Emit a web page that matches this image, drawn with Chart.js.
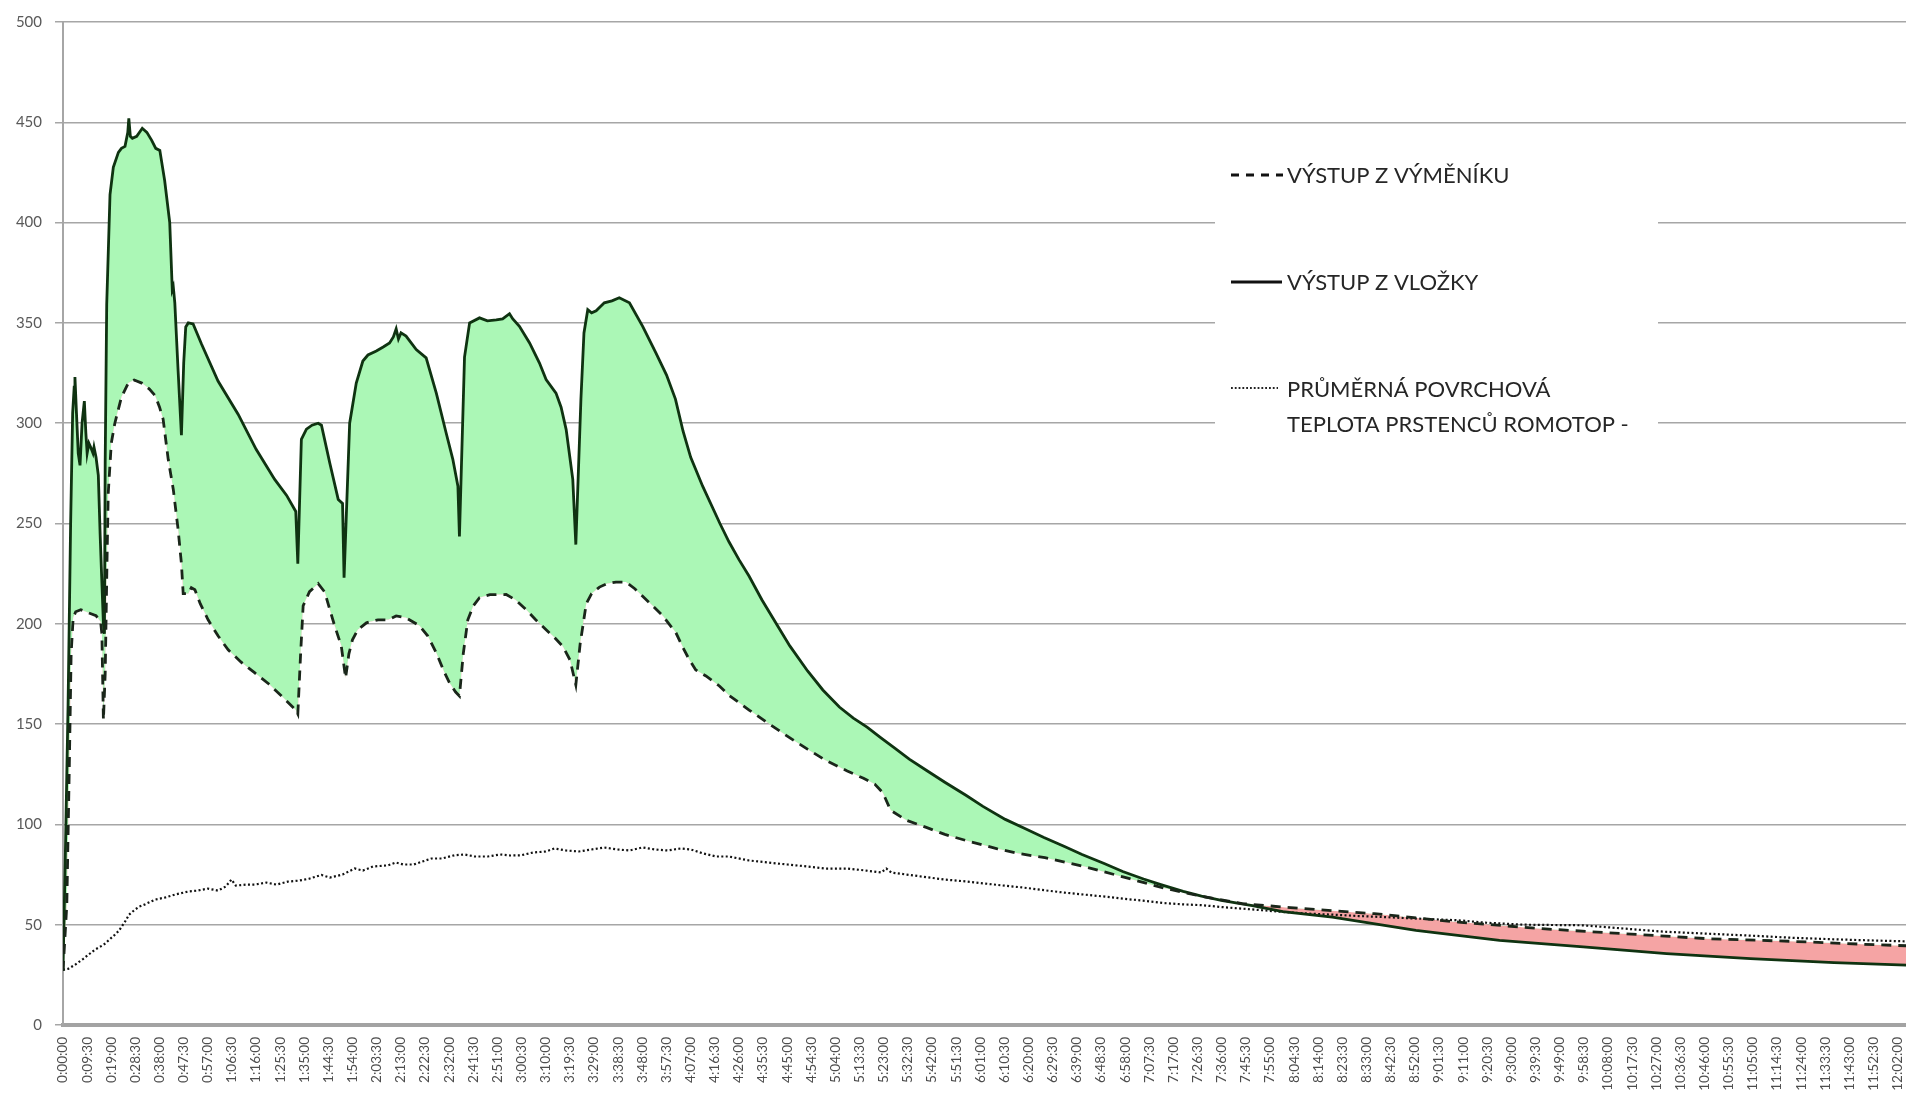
<!DOCTYPE html>
<html>
<head>
<meta charset="utf-8">
<script src="https://cdn.jsdelivr.net/npm/chart.js@4.4.1/dist/chart.umd.min.js"></script>
<style>
  html, body { margin: 0; padding: 0; background: #fff; overflow: hidden; width: 1906px; height: 1104px; }
  #wrap { width: 1926px; height: 1104px; position: relative; }
</style>
</head>
<body>
<div id="wrap"><canvas id="c"></canvas></div>
<script>
// ---- Tick labels (x axis, every 9:30) ----
const xTickLabels = [
  "0:00:00","0:09:30","0:19:00","0:28:30","0:38:00","0:47:30","0:57:00","1:06:30","1:16:00","1:25:30",
  "1:35:00","1:44:30","1:54:00","2:03:30","2:13:00","2:22:30","2:32:00","2:41:30","2:51:00","3:00:30",
  "3:10:00","3:19:30","3:29:00","3:38:30","3:48:00","3:57:30","4:07:00","4:16:30","4:26:00","4:35:30",
  "4:45:00","4:54:30","5:04:00","5:13:30","5:23:00","5:32:30","5:42:00","5:51:30","6:01:00","6:10:30",
  "6:20:00","6:29:30","6:39:00","6:48:30","6:58:00","7:07:30","7:17:00","7:26:30","7:36:00","7:45:30",
  "7:55:00","8:04:30","8:14:00","8:23:30","8:33:00","8:42:30","8:52:00","9:01:30","9:11:00","9:20:30",
  "9:30:00","9:39:30","9:49:00","9:58:30","10:08:00","10:17:30","10:27:00","10:36:30","10:46:00","10:55:30",
  "11:05:00","11:14:30","11:24:00","11:33:30","11:43:00","11:52:30","12:02:00"
];
const tickStepMin = 9.5;
const yTicks = [0,50,100,150,200,250,300,350,400,450,500];

// ---- Series names ----
const nameVymenik = "VÝSTUP Z VÝMĚNÍKU";
const nameVlozka = "VÝSTUP Z VLOŽKY";
const namePovrch = ["PRŮMĚRNÁ POVRCHOVÁ", "TEPLOTA PRSTENCŮ ROMOTOP -"];

// ---- VÝSTUP Z VLOŽKY (solid) : time [min], temperature ----
const vlozkaT = [0,1,2,3,3.8,4.4,4.7,5.3,6.0,6.7,7.5,8.4,9.0,9.5,10.2,10.9,11.8,12.2,13.0,13.9,14.6,15.2,15.9,16.3,16.6,17.2,18.5,19.8,21.8,23.0,24.4,25.5,25.9,26.5,27.3,29.0,31.2,33.0,34.9,36.5,38.1,40.0,42.0,43.0,43.4,44.0,45.3,46.6,47.5,48.3,49.3,51.2,54.5,61.0,68.9,76.0,83.3,88.0,91.6,92.4,93.8,95.8,98.0,100.4,101.7,105.0,108.3,110.0,110.6,112.8,115.4,118.0,120.0,123.3,126.0,128.5,130.0,131.1,132.0,133.0,135.0,139.0,142.9,146.9,150.8,153.4,155.4,156.0,158.0,160.0,163.9,167.0,170.5,173.0,175.7,177.0,179.6,183.6,187.5,190.1,194.0,196.0,198.0,200.6,201.8,203.8,205.0,206.5,208.0,209.8,213.0,216.0,218.9,222.9,228.1,233.3,237.5,241.0,244.0,247.0,251.7,258.5,262.0,266.0,270.0,275.0,280.7,286.0,293.0,299.0,305.5,311.0,316.4,322.0,327.3,333.0,339.7,347.0,355.3,362.0,370.8,378.5,386.0,394.1,401.0,409.7,417.0,425.2,432.0,440.8,448.0,456.3,468.0,480.0,499.5,532.4,565.3,598.2,631.0,664.0,696.9,725.3];
const vlozkaV = [27,90,160,250,305,318,323,305,285,279,300,311,295,285,290,288,285,288,283,274,245,224,200,195,280,359,414,427.6,435,437,438,445,452,443,442,443,447,445,441,437,436,421,400,366.5,368,360,326,294,330,348,350,349.5,339.5,321,304.5,287,272,264,256,230,292,297,299,300,299,280,262,260,223,300,320,331,334,336,338,340,343,347,342,345,343.4,336.7,332.6,315,295,282,268.6,243.6,333,350,352.5,351,351.5,352,354.6,352,348.3,340,330,321.8,315,308,296.8,272,239.5,311.8,345,356.6,355,356,360,361,362.5,360,348.3,335,324,312,296,283,268.6,250,241,232,223.7,212,200,189,176.5,167,158.5,153,148.5,143,138,132.5,127,121,114.5,109,102.5,98,93.5,89,85,80.5,76.5,72.8,70,66.6,64.2,62,59.5,56.5,53.8,47.2,42.2,38.9,35.6,33.1,31.1,29.8];

// ---- VÝSTUP Z VÝMĚNÍKU (dashed) ----
const vymenikT = [0,1.5,2.5,3.2,4,5,7,9,11,13,14.8,15.3,15.9,16.6,17.3,17.8,19,20.4,23,25.7,28,31,34,36.2,38,39.4,41.4,43.4,45.3,46.6,47.3,49.3,50.5,51.9,54,57.1,61,65,70,75.5,81,86,91.6,92.4,93.5,94.5,97,100.4,103,105,106.9,109.5,111.2,112.5,113.9,116,119.4,124,128,131.1,135,140.3,143.5,146.9,150,152.1,154.5,156,157.5,159.3,161.5,163.9,168,174.4,178,182.3,186,190.1,193.5,196.7,199.5,201.8,203.5,205.9,208,211.1,214,217.6,221.5,225,228.1,232,236,241.2,244,246.5,249,253,258.3,262,270,277.5,285,293.1,300,308.6,315,319.5,322.6,325.7,332,339.7,347,355.3,367.7,376,386.4,401.9,417.5,433,448.5,464,483,516,549,582,614.6,647.5,680.4,713.3,725.3];
const vymenikV = [27,60,130,185,203,206,207,206,205,204,201,195,152,175,230,265,290,300,313,320,321.5,320,317,313.8,308,302,282,267,247,230,215,215,218,217,210,202,194,187,181,175.5,170,164,157,155,185,209,216,220,215.8,207,199,189,173,185,192,197,200.5,202,202,203.9,203,199,194,185.5,176,170.5,166,164,185,202,209,213,214.5,214.6,212,207,202,197,193,188.7,182,169.6,190,210,215,218.3,220,220.8,220.8,217.5,213.7,209,204,195.5,188,182,177,174,169,164.4,157,150.4,144,137.4,132,126.6,123,120,115.8,107,102,98.5,95,92,87.8,85.5,83.4,79,73.7,68.3,64,60.5,58.5,55.5,51.3,48,45.5,43,41.7,40,39.5];

// ---- PRŮMĚRNÁ POVRCHOVÁ TEPLOTA (dotted) ----
const povrchT = [0,2,4.7,8,12.6,16,20.4,22,24.4,26,28.3,30,32,36.2,40,44,49.2,53,57,61,64,66.3,68,72,75.5,80,84,88.5,93,97,101.7,105,110,114.8,118,122,127.9,131,134,138,141,145,149,154,158,162,167.2,172,176,180.3,185,190,193.4,198,203,208,213,218,223,228,233,238,243,247,252,257,262,270,277.5,285,293,300,308.6,316,322,324,326,332,339.7,347,355,363,370.8,378,386,394,402,410,417.5,425,433,440,448.5,456,464,472,479.6,490,500,510,520,530,549,560,575,598,615,630,647.5,665,680,695,710,725.3];
const povrchV = [27.5,28,30,33,37.6,40,45,47,51.5,55,57.5,59,60,62.5,63.5,65,66.5,67,68,67,69,72.5,69.5,70,70,71,70,71.5,72,73,74.8,73.5,75,78,77,79,79.6,81,80,80,81.3,83,83,84.6,85,84,84,85,84.5,84.6,86,86.5,88,87,86.5,87.5,88.5,87.5,87,88.5,87.5,87,88,87.5,85.5,84,84,82,81,80,79,78,78,77,76,78,76,75,73.7,72.5,71.6,70.5,69.4,68.5,67.2,66,65,64,62.9,62,60.8,60.2,59.7,58.8,58,57.2,56.4,55.5,55,54.3,53.8,53.2,52.2,51,50,49.7,48,46.5,45.5,44.5,43.5,42.8,42.2,41.7];

const toXY = (ts, vs) => ts.map((t, i) => ({ x: t, y: vs[i] }));

const FONT = "Lato, 'Open Sans', 'Liberation Sans', sans-serif";

const legendPlugin = {
  id: 'boxLegend',
  afterDraw(chart) {
    const ctx = chart.ctx;
    ctx.save();
    ctx.fillStyle = '#ffffff';
    ctx.fillRect(1215, 140, 443, 312);
    ctx.font = "22px " + FONT;
    ctx.fillStyle = '#262626';
    ctx.textBaseline = 'alphabetic';
    ctx.textAlign = 'left';
    // dashed
    ctx.strokeStyle = '#111';
    ctx.lineWidth = 3;
    ctx.setLineDash([8, 7]);
    ctx.beginPath(); ctx.moveTo(1231, 175); ctx.lineTo(1283, 175); ctx.stroke();
    ctx.fillText(nameVymenik, 1287, 183);
    // solid
    ctx.setLineDash([]);
    ctx.beginPath(); ctx.moveTo(1231, 282); ctx.lineTo(1282, 282); ctx.stroke();
    ctx.fillText(nameVlozka, 1287, 290);
    // dotted
    ctx.lineWidth = 1.8;
    ctx.setLineDash([1.8, 2]);
    ctx.strokeStyle = '#222';
    ctx.beginPath(); ctx.moveTo(1231, 388); ctx.lineTo(1278, 388); ctx.stroke();
    ctx.fillText(namePovrch[0], 1287, 397);
    ctx.fillText(namePovrch[1], 1287, 432);
    ctx.restore();
  }
};

new Chart(document.getElementById('c'), {
  type: 'line',
  data: {
    datasets: [
      {
        label: nameVymenik,
        data: toXY(vymenikT, vymenikV),
        borderColor: '#1a261a',
        borderWidth: 2.8,
        borderDash: [10, 7],
        pointRadius: 0,
        tension: 0,
        fill: false
      },
      {
        label: nameVlozka,
        data: toXY(vlozkaT, vlozkaV),
        borderColor: '#0f3311',
        borderWidth: 2.8,
        pointRadius: 0,
        tension: 0,
        fill: { target: 0, above: '#abf7b6', below: '#f5a4a4' }
      },
      {
        label: namePovrch.join(' '),
        data: toXY(povrchT, povrchV),
        borderColor: '#111',
        borderWidth: 2.2,
        borderDash: [2, 2.4],
        pointRadius: 0,
        tension: 0,
        fill: false
      }
    ]
  },
  options: {
    responsive: true,
    maintainAspectRatio: false,
    animation: false,
    layout: { padding: { top: 20, left: 0, right: 0, bottom: 0 } },
    plugins: {
      legend: { display: false },
      tooltip: { enabled: false },
      filler: { drawTime: 'beforeDatasetsDraw' }
    },
    scales: {
      x: {
        type: 'linear',
        min: 0,
        max: 725.3,
        grid: { display: false, drawTicks: false },
        border: { display: true, color: '#a3a3a3', width: 4 },
        afterBuildTicks: (s) => { s.ticks = xTickLabels.map((_, i) => ({ value: i * tickStepMin })); },
        afterFit: (s) => { s.height = 79; },
        ticks: {
          autoSkip: false,
          minRotation: 90,
          maxRotation: 90,
          padding: 12,
          color: '#4d4d4d',
          font: { family: FONT, size: 13.5 },
          callback: (v, i) => xTickLabels[i]
        }
      },
      y: {
        min: 0,
        max: 500,
        afterBuildTicks: (s) => { s.ticks = yTicks.map(v => ({ value: v })); },
        afterFit: (s) => { s.width = 63; },
        grid: { color: '#a6a6a6', lineWidth: 1.5, tickLength: 8, drawTicks: true },
        border: { display: true, color: '#a6a6a6', width: 2 },
        ticks: {
          padding: 13,
          color: '#595959',
          font: { family: FONT, size: 15 }
        }
      }
    }
  },
  plugins: [legendPlugin]
});
</script>
</body>
</html>
